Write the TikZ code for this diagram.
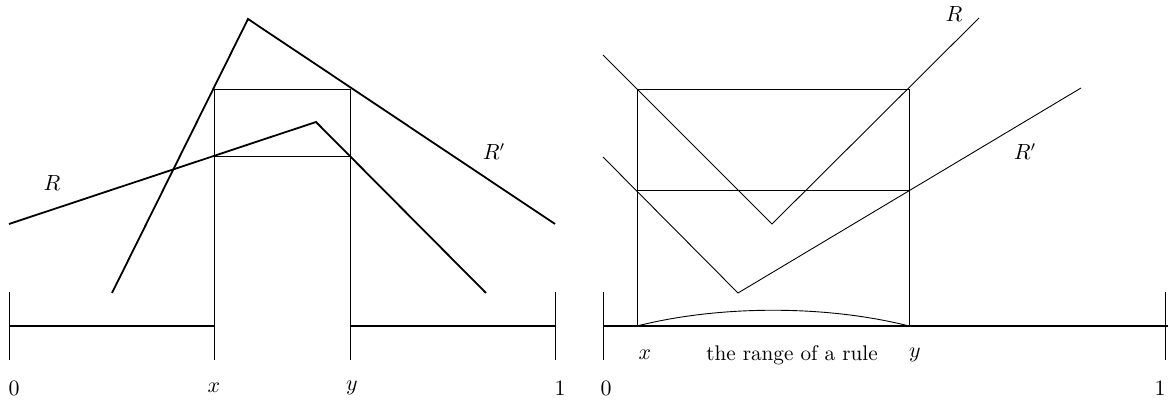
\documentclass[tikz,border=0pt]{standalone}
\begin{document}
\begin{tikzpicture}[x=0.5pt,y=-0.5pt,
  thickline/.style={line width=0.9pt},
  thinline/.style={line width=0.45pt},
  axisline/.style={line width=0.6pt},
  lbl/.style={inner sep=0pt, anchor=center, font=\fontsize{10.6}{12.7}\selectfont}]
\useasboundingbox (0,0) rectangle (1168,410);
% ---------- left panel ----------
\coordinate (L0t) at (9,292);   \coordinate (L0b) at (9,360);
\coordinate (Lxt) at (214,89);  \coordinate (Lxb) at (214,360);
\coordinate (Lyt) at (350,89);  \coordinate (Lyb) at (350,360);
\coordinate (L1t) at (555,292); \coordinate (L1b) at (555,360);
\coordinate (Lxa) at (214,326); \coordinate (Lya) at (350,326);
\coordinate (L0a) at (9,326);   \coordinate (L1a) at (555,326);
\coordinate (Lxm) at (214,156); \coordinate (Lym) at (350,156);
\draw[thinline] (L0t) -- (L0b);
\draw[thinline] (L1t) -- (L1b);
\draw[thinline] (Lxt) -- (Lxb);
\draw[thinline] (Lyt) -- (Lyb);
\draw[thinline] (Lxt) -- (Lyt);
\draw[thinline] (Lxm) -- (Lym);
\draw[axisline] (L0a) -- (Lxa);
\draw[axisline] (Lya) -- (L1a);
% R' (tall peak)
\coordinate (Pa) at (112,293); \coordinate (Pb) at (248,19); \coordinate (Pc) at (555,224);
\draw[thickline] (Pa) -- (Pb) -- (Pc);
% R (low peak)
\coordinate (Qa) at (9,224); \coordinate (Qb) at (316,122); \coordinate (Qc) at (486,293);
\draw[thickline] (Qa) -- (Qb) -- (Qc);
\node[lbl] (lR) at (52,183) {$R$};
\node[lbl] (lRp) at (494,152) {$R'$};
\node[lbl] (l0) at (14,388) {$0$};
\node[lbl] (lx) at (214,388) {$x$};
\node[lbl] (ly) at (352,388) {$y$};
\node[lbl] (l1) at (560,388) {$1$};
% ---------- right panel ----------
\coordinate (S0t) at (603,292); \coordinate (S0b) at (603,360);
\coordinate (S1t) at (1165,292); \coordinate (S1b) at (1165,360);
\coordinate (Sxt) at (637,89);  \coordinate (Sxa) at (637,326);
\coordinate (Syt) at (909,89);  \coordinate (Sya) at (909,326);
\coordinate (Sxm) at (637,190); \coordinate (Sym) at (909,190);
\coordinate (S0a) at (603,326); \coordinate (S1a) at (1168,326);
\draw[thinline] (S0t) -- (S0b);
\draw[thinline] (S1t) -- (S1b);
\draw[thinline] (Sxt) -- (Sxa);
\draw[thinline] (Syt) -- (Sya);
\draw[thinline] (Sxt) -- (Syt);
\draw[thinline] (Sxm) -- (Sym);
\draw[axisline] (S0a) -- (S1a);
\draw[line width=1.4pt] (Sxa) -- (Sya);
\draw[thinline] (Sxa) .. controls (720,305) and (826,305) .. (Sya);
% R
\coordinate (Ua) at (603,55); \coordinate (Ub) at (772,224); \coordinate (Uc) at (979,18);
\draw[thinline] (Ua) -- (Ub) -- (Uc);
% R'
\coordinate (Va) at (603,157); \coordinate (Vb) at (738,293); \coordinate (Vc) at (1081,88);
\draw[thinline] (Va) -- (Vb) -- (Vc);
\node[lbl] (rR) at (954,14) {$R$};
\node[lbl] (rRp) at (1025,152) {$R'$};
\node[lbl] (rx) at (645,355) {$x$};
\node[lbl] (rrange) at (792,355) {the range of a rule};
\node[lbl] (ry) at (915,355) {$y$};
\node[lbl] (r0) at (606,388) {$0$};
\node[lbl] (r1) at (1160,388) {$1$};
\end{tikzpicture}
\end{document}
